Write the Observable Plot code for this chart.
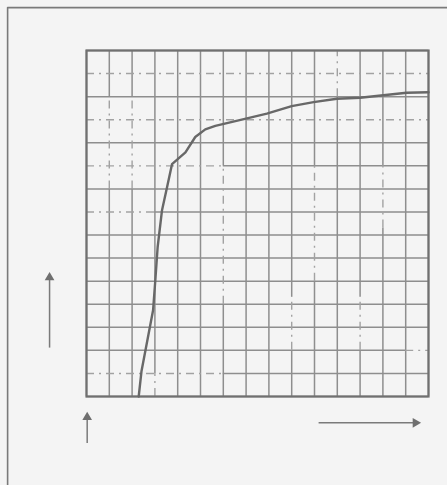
<!DOCTYPE html>
<html>
<head>
<meta charset="utf-8">
<script src="https://cdn.jsdelivr.net/npm/d3@7"></script>
<script src="https://cdn.jsdelivr.net/npm/@observablehq/plot@0.6"></script>
<style>
  html, body { margin: 0; padding: 0; background: #f4f4f4; }
  #chart { width: 447px; height: 485px; overflow: hidden; }
</style>
</head>
<body>
<div id="chart"></div>
<script>
// Curve (grid units, 15 x 15)
const curveX = [2.29, 2.41, 2.92, 3.02, 3.12, 3.31, 3.53, 3.75, 4.34, 4.77, 5.21, 5.65, 7.04, 7.91, 9.0, 9.96, 10.98, 12.0, 13.02, 14.04, 15.0];
const curveY = [0, 1.08, 3.74, 5.06, 6.47, 8.06, 9.06, 10.07, 10.58, 11.25, 11.58, 11.73, 12.06, 12.26, 12.59, 12.76, 12.91, 12.95, 13.06, 13.17, 13.19];

// Grid lines
const gridTicks = d3.range(0, 16);

// Faded (dash-dot) stretches of the printed grid
const dashedHY  = [14, 12, 10, 8, 1, 2];
const dashedHX1 = [0, 0, 0, 0, 0, 14];
const dashedHX2 = [15, 15, 6, 3, 6, 15];
const dashedVX  = [1, 2, 3, 6, 9, 10, 11, 12, 13];
const dashedVY1 = [9, 9, 0, 4, 2, 5, 13, 2, 7.3];
const dashedVY2 = [13, 13, 1, 10, 4.3, 10, 15, 4.3, 10];

// Annotation arrows (x1, y1) -> (x2, y2)
const arrowX1 = [-1.62, 0.03, 10.18];
const arrowY1 = [2.12, -2.02, -1.14];
const arrowX2 = [-1.62, 0.03, 14.43];
const arrowY2 = [5.16, -0.9, -1.14];
const arrowRotate = [0, 0, 90];

// Outer sheet border
const borderX = [-3.46, -3.46, 15.9];
const borderY = [-3.9, 16.86, 16.86];

const curve = curveX.map((x, i) => ({x, y: curveY[i]}));
const arrows = arrowX1.map((x1, i) => ({x1, y1: arrowY1[i], x2: arrowX2[i], y2: arrowY2[i], r: arrowRotate[i]}));
const border = borderX.map((x, i) => ({x, y: borderY[i]}));

const dashedH = dashedHY.map((y, i) => ({y, a: dashedHX1[i], b: dashedHX2[i]}));
const dashedV = dashedVX.map((x, i) => ({x, a: dashedVY1[i], b: dashedVY2[i]}));

// Solid stretches = grid line minus its faded stretches
function solidParts(pos, dashed) {
  const out = [];
  for (const p of gridTicks) {
    const cuts = dashed.filter(d => d[pos] === p).sort((u, v) => u.a - v.a);
    let start = 0;
    for (const c of cuts) {
      if (c.a > start) out.push({p, a: start, b: c.a});
      start = Math.max(start, c.b);
    }
    if (start < 15) out.push({p, a: start, b: 15});
  }
  return out;
}
const solidH = solidParts("y", dashedH);
const solidV = solidParts("x", dashedV);

const gridColor = "#8e8e8e";

const chart = Plot.plot({
  width: 447,
  height: 485,
  marginLeft: 86,
  marginRight: 19,
  marginTop: 50,
  marginBottom: 89,
  x: {domain: [0, 15], axis: null},
  y: {domain: [0, 15], axis: null},
  style: {background: "transparent", overflow: "visible"},
  marks: [
    Plot.line(border, {x: "x", y: "y", stroke: "#7a7a7a", strokeWidth: 1.6, clip: false}),
    Plot.ruleY(solidH, {y: "p", x1: "a", x2: "b", stroke: gridColor, strokeWidth: 1.5}),
    Plot.ruleX(solidV, {x: "p", y1: "a", y2: "b", stroke: gridColor, strokeWidth: 1.5}),
    Plot.ruleY(dashedH, {y: "y", x1: "a", x2: "b", stroke: "#a2a2a2", strokeWidth: 1.4, strokeDasharray: "8,5,2,5"}),
    Plot.ruleX(dashedV, {x: "x", y1: "a", y2: "b", stroke: "#a2a2a2", strokeWidth: 1.4, strokeDasharray: "8,5,2,5"}),
    Plot.frame({stroke: "#707070", strokeWidth: 2.2}),
    Plot.line(curve, {x: "x", y: "y", stroke: "#686868", strokeWidth: 2.4, curve: "linear"}),
    Plot.link(arrows, {x1: "x1", y1: "y1", x2: "x2", y2: "y2", stroke: "#7a7a7a", strokeWidth: 1.5, clip: false}),
    Plot.dot(arrows, {x: "x2", y: "y2", symbol: "triangle", r: 3.6, fill: "#6f6f6f", stroke: "none", rotate: "r", clip: false})
  ]
});
document.getElementById("chart").appendChild(chart);
</script>
</body>
</html>
